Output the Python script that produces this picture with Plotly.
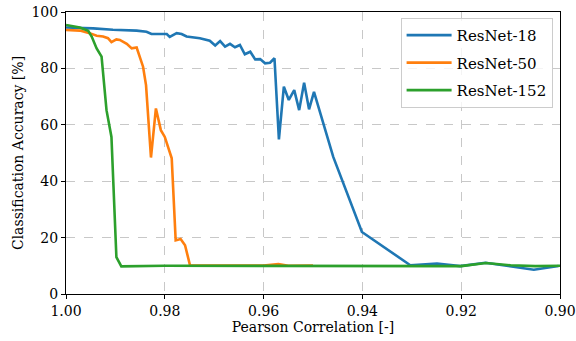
import plotly.graph_objects as go

# ResNet-18
r18_x = [1.000, 0.9945, 0.9905, 0.9857, 0.9837, 0.9827, 0.9796, 0.9790, 0.9776, 0.9766,
         0.9756, 0.9729, 0.9709, 0.9698, 0.9688, 0.9678, 0.9668, 0.9658, 0.9648, 0.9638,
         0.9627, 0.9617, 0.9607, 0.9597, 0.9587, 0.9578, 0.9569, 0.9559, 0.9549, 0.9538,
         0.9528, 0.9518, 0.9508, 0.9498, 0.9459, 0.9401, 0.9303, 0.9249, 0.9202, 0.9151,
         0.9053, 0.9003]
r18_y = [94.5, 94.2, 93.7, 93.4, 93.0, 92.2, 92.2, 91.2, 92.5, 92.2,
         91.3, 90.7, 89.8, 88.1, 89.7, 87.7, 88.7, 87.5, 88.3, 85.0,
         85.9, 83.2, 83.3, 81.8, 82.0, 83.6, 54.8, 73.5, 68.8, 72.3,
         65.2, 74.9, 65.5, 71.7, 48.6, 22.0, 10.2, 10.8, 9.9, 11.1,
         8.6, 9.9]

# ResNet-50
r50_x = [1.000, 0.9972, 0.9952, 0.9938, 0.9925, 0.9915, 0.9908, 0.9898, 0.9891, 0.9877,
         0.9867, 0.9857, 0.9844, 0.9838, 0.9828, 0.9818, 0.9808, 0.9800, 0.9786, 0.9778,
         0.9768, 0.9759, 0.9749, 0.970, 0.965, 0.960, 0.957, 0.955, 0.950]
r50_y = [93.6, 93.4, 92.5, 91.6, 91.3, 90.7, 89.3, 90.3, 90.1, 88.7,
         87.1, 87.4, 80.6, 74.1, 48.4, 65.8, 58.1, 55.7, 48.1, 19.0,
         19.5, 17.3, 10.2, 10.1, 10.0, 10.1, 10.6, 10.0, 10.1]

# ResNet-152
r152_x = [1.000, 0.9972, 0.9955, 0.9948, 0.9938, 0.9928, 0.9918, 0.9908, 0.9898, 0.9888,
          0.980, 0.970, 0.960, 0.950, 0.940, 0.930, 0.925, 0.920, 0.915, 0.910,
          0.905, 0.900]
r152_y = [95.4, 94.5, 93.3, 91.3, 87.1, 84.2, 65.2, 55.7, 13.1, 9.8,
          10.0, 10.0, 10.0, 10.0, 10.0, 10.0, 10.1, 9.9, 11.0, 10.2,
          9.9, 10.0]

x_ticks = [1.00, 0.98, 0.96, 0.94, 0.92, 0.90]
x_tick_labels = ["1.00", "0.98", "0.96", "0.94", "0.92", "0.90"]
y_ticks = [0, 20, 40, 60, 80, 100]

FONT = "DejaVu Serif"

fig = go.Figure()
for name, xs, ys, col in [
    ("ResNet-18", r18_x, r18_y, "#1f77b4"),
    ("ResNet-50", r50_x, r50_y, "#ff7f0e"),
    ("ResNet-152", r152_x, r152_y, "#2ca02c"),
]:
    fig.add_trace(go.Scatter(x=xs, y=ys, mode="lines", name=name, legendgroup=name,
                             line=dict(color=col, width=2.6)))

axis_common = dict(
    showline=True, linecolor="black", linewidth=1, mirror=True,
    ticks="outside", ticklen=4, tickcolor="black",
    showgrid=True, gridcolor="#c8c8c8", griddash="dash", gridwidth=0.8,
    zeroline=False, automargin=False,
    tickfont=dict(family=FONT, size=14, color="black"),
)

fig.update_xaxes(
    range=[1.00, 0.90], tickvals=x_ticks, ticktext=x_tick_labels,
    title=dict(text="Pearson Correlation [-]", font=dict(family=FONT, size=14, color="black"),
               standoff=2),
    **axis_common,
)
fig.update_yaxes(
    range=[0, 100], tickvals=y_ticks,
    title=dict(text="Classification Accuracy [%]", font=dict(family=FONT, size=14, color="black"),
               standoff=4),
    **axis_common,
)

fig.update_layout(
    width=576, height=341,
    margin=dict(l=66, r=16, t=12, b=47),
    plot_bgcolor="white", paper_bgcolor="white",
    font=dict(family=FONT, size=14, color="black"),
    legend=dict(
        x=0.985, y=0.979, xanchor="right", yanchor="top",
        bgcolor="rgba(255,255,255,0.8)", bordercolor="#cccccc", borderwidth=1,
        font=dict(family=FONT, size=15, color="black"),
        tracegroupgap=5, itemwidth=45,
    ),
    showlegend=True,
)

fig.write_html("out.html", config={"displayModeBar": False},
               post_script="document.body.style.margin='0';document.body.style.padding='0';")
